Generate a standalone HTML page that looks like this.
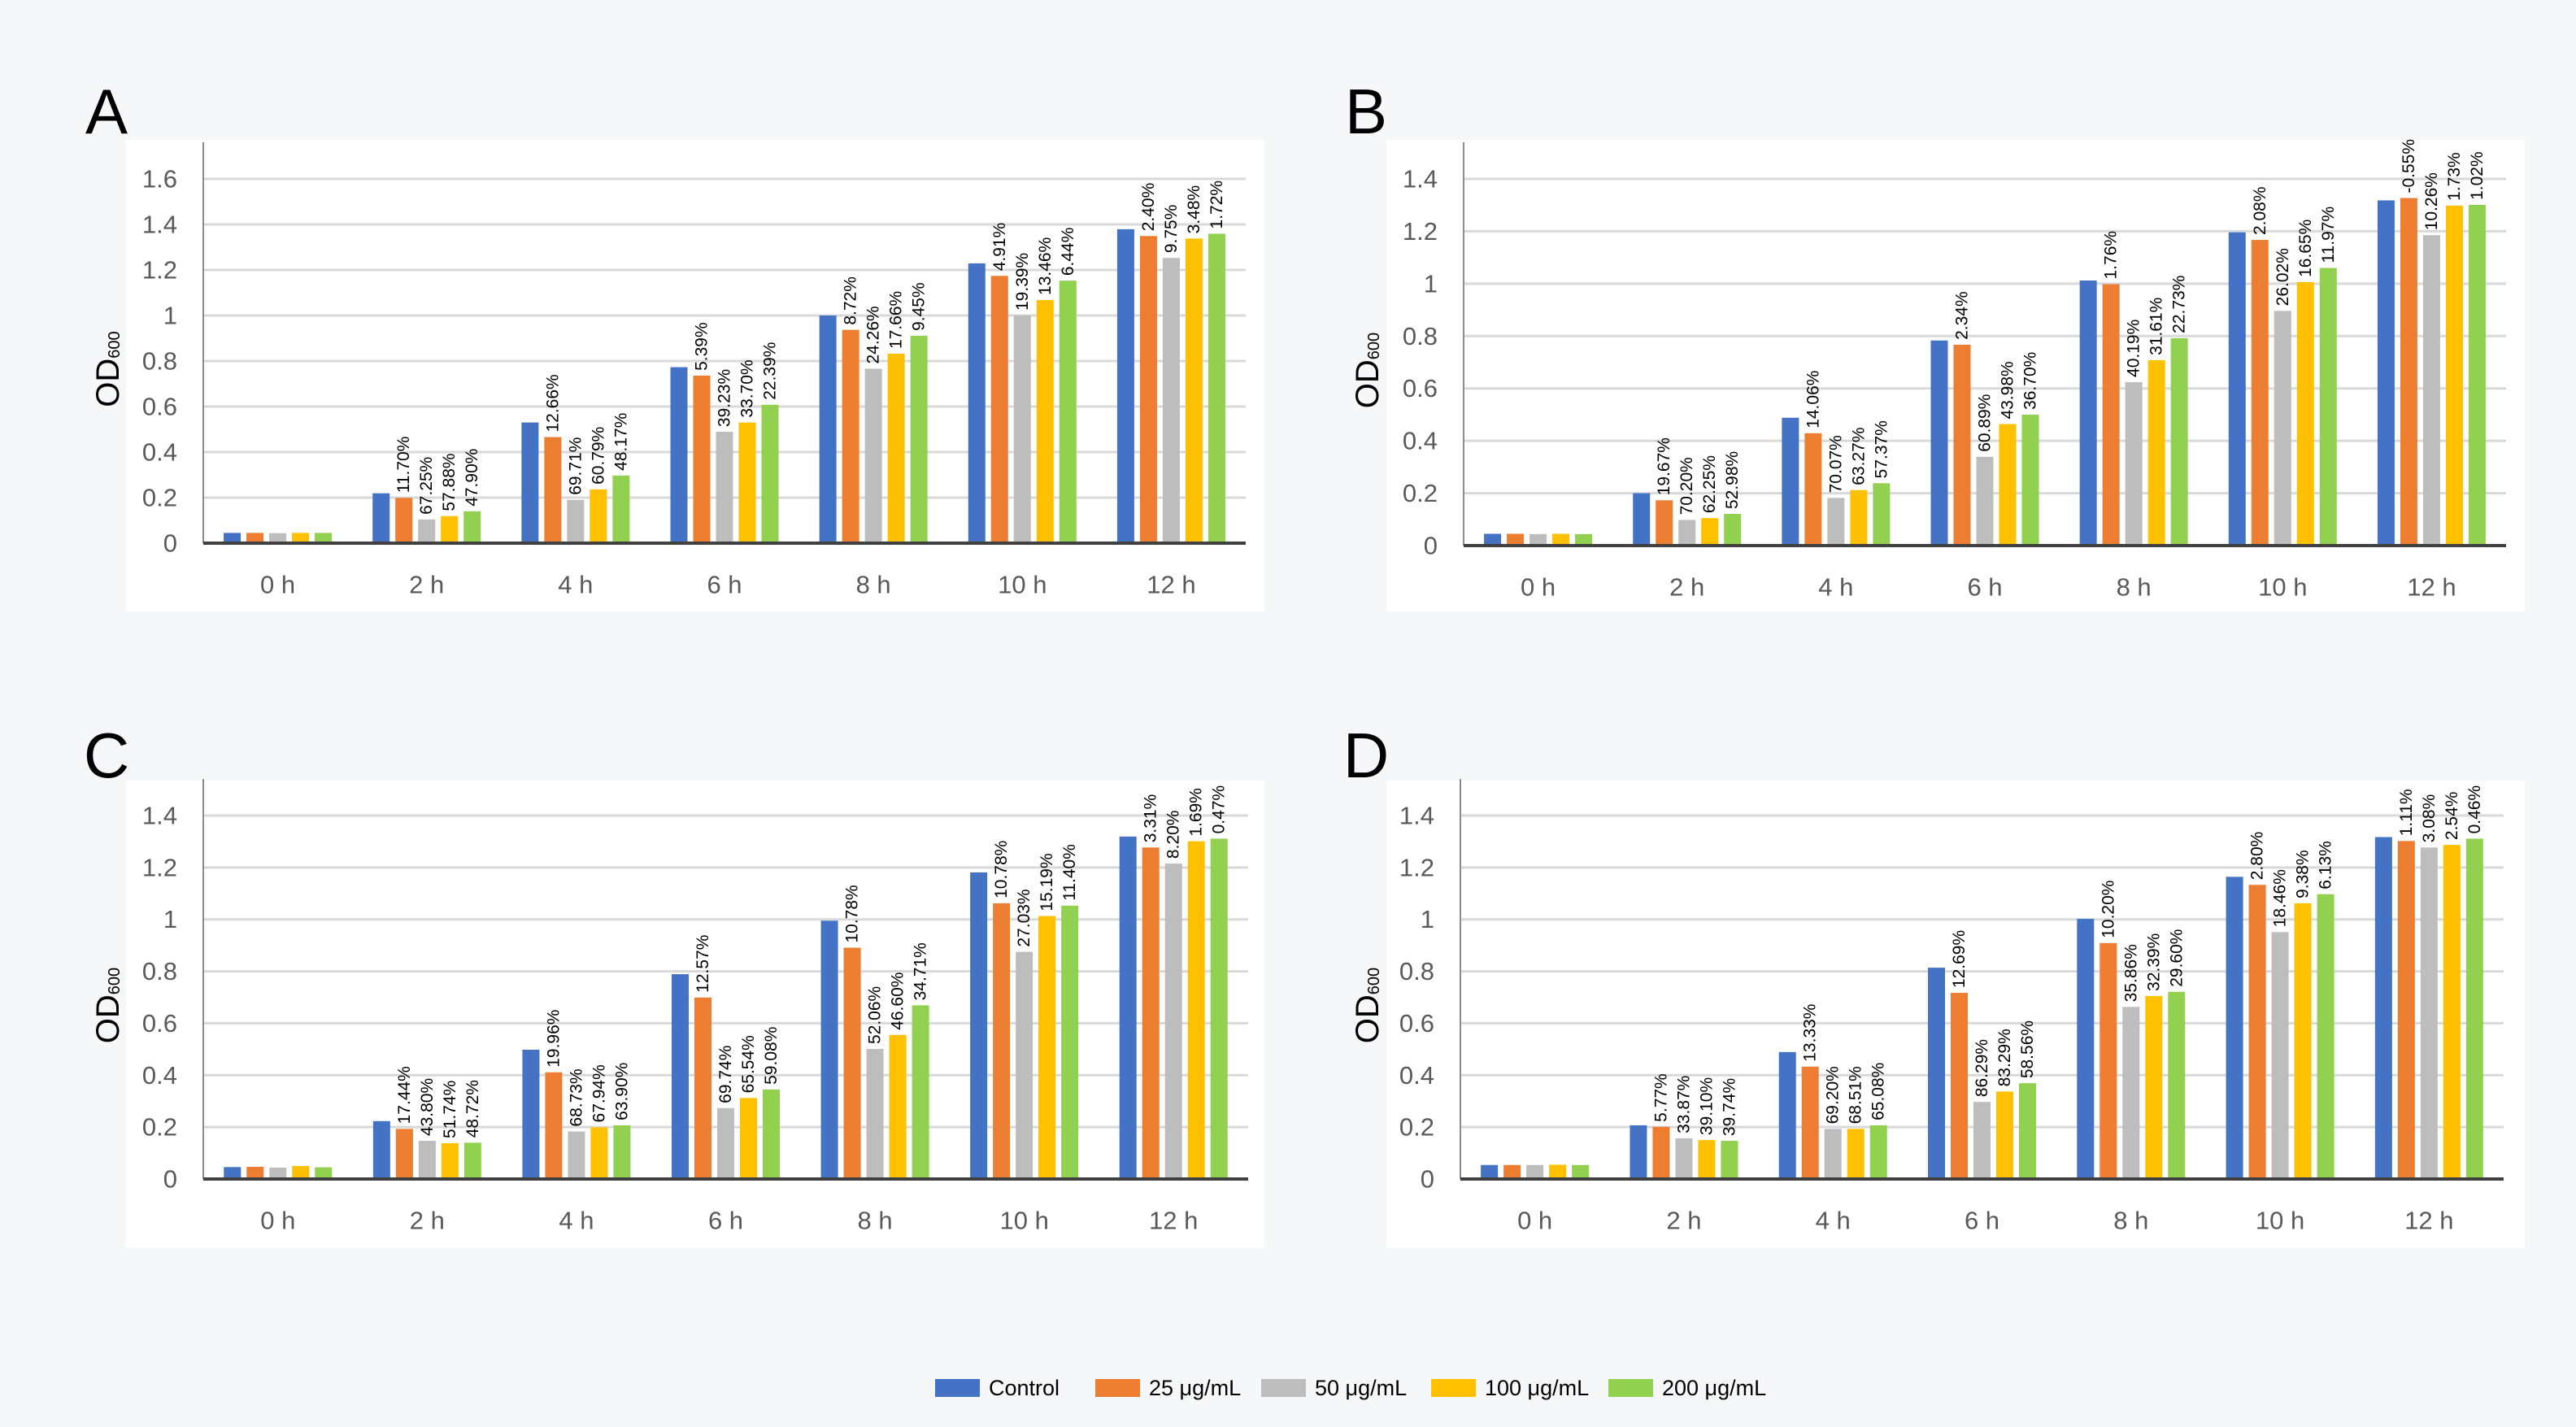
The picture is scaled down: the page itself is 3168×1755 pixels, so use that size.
<!DOCTYPE html>
<html><head><meta charset="utf-8">
<style>
html,body{margin:0;padding:0;background:#f6f7f9;}
svg{display:block;font-family:"Liberation Sans",sans-serif;}
</style></head>
<body>
<svg id="fig" width="3168" height="1755" viewBox="0 0 3168 1755" xmlns="http://www.w3.org/2000/svg">
<rect x="0" y="0" width="3168" height="1755" fill="#f6f7f9"/>
</svg>
<script>
const categories = ["0 h","2 h","4 h","6 h","8 h","10 h","12 h"];
const seriesNames = ["Control","25 μg/mL","50 μg/mL","100 μg/mL","200 μg/mL"];
const colors = ["#4472c4","#ed7d31","#bdbdbd","#ffc000","#92d050"];

const aControl = [0.045,0.219,0.53,0.773,1.0,1.229,1.379];
const a25 = [0.045,0.199,0.466,0.736,0.937,1.174,1.349];
const a50 = [0.044,0.104,0.19,0.489,0.766,1.0,1.253];
const a100 = [0.045,0.119,0.236,0.53,0.832,1.068,1.338];
const a200 = [0.045,0.14,0.297,0.608,0.911,1.153,1.359];
const aLabels25 = ["","11.70%","12.66%","5.39%","8.72%","4.91%","2.40%"];
const aLabels50 = ["","67.25%","69.71%","39.23%","24.26%","19.39%","9.75%"];
const aLabels100 = ["","57.88%","60.79%","33.70%","17.66%","13.46%","3.48%"];
const aLabels200 = ["","47.90%","48.17%","22.39%","9.45%","6.44%","1.72%"];

const bControl = [0.045,0.2,0.488,0.783,1.012,1.196,1.318];
const b25 = [0.045,0.173,0.429,0.767,0.998,1.167,1.327];
const b50 = [0.044,0.098,0.182,0.339,0.624,0.896,1.185];
const b100 = [0.045,0.105,0.212,0.464,0.708,1.006,1.298];
const b200 = [0.044,0.121,0.238,0.5,0.792,1.06,1.301];
const bLabels25 = ["","19.67%","14.06%","2.34%","1.76%","2.08%","-0.55%"];
const bLabels50 = ["","70.20%","70.07%","60.89%","40.19%","26.02%","10.26%"];
const bLabels100 = ["","62.25%","63.27%","43.98%","31.61%","16.65%","1.73%"];
const bLabels200 = ["","52.98%","57.37%","36.70%","22.73%","11.97%","1.02%"];

const cControl = [0.046,0.223,0.498,0.789,0.995,1.181,1.319];
const c25 = [0.047,0.193,0.411,0.699,0.891,1.062,1.277];
const c50 = [0.044,0.147,0.183,0.273,0.501,0.875,1.215];
const c100 = [0.05,0.138,0.199,0.312,0.555,1.013,1.301];
const c200 = [0.045,0.14,0.207,0.345,0.669,1.053,1.311];
const cLabels25 = ["","17.44%","19.96%","12.57%","10.78%","10.78%","3.31%"];
const cLabels50 = ["","43.80%","68.73%","69.74%","52.06%","27.03%","8.20%"];
const cLabels100 = ["","51.74%","67.94%","65.54%","46.60%","15.19%","1.69%"];
const cLabels200 = ["","48.72%","63.90%","59.08%","34.71%","11.40%","0.47%"];

const dControl = [0.054,0.207,0.489,0.814,1.002,1.164,1.317];
const d25 = [0.054,0.201,0.433,0.717,0.909,1.133,1.302];
const d50 = [0.054,0.157,0.193,0.297,0.663,0.951,1.277];
const d100 = [0.055,0.15,0.193,0.337,0.705,1.062,1.287];
const d200 = [0.054,0.147,0.207,0.369,0.721,1.097,1.311];
const dLabels25 = ["","5.77%","13.33%","12.69%","10.20%","2.80%","1.11%"];
const dLabels50 = ["","33.87%","69.20%","86.29%","35.86%","18.46%","3.08%"];
const dLabels100 = ["","39.10%","68.51%","83.29%","32.39%","9.38%","2.54%"];
const dLabels200 = ["","39.74%","65.08%","58.56%","29.60%","6.13%","0.46%"];

const ticksA = ["0","0.2","0.4","0.6","0.8","1","1.2","1.4","1.6"];
const ticksB = ["0","0.2","0.4","0.6","0.8","1","1.2","1.4"];

const NS="http://www.w3.org/2000/svg";
const svg=document.getElementById('fig');
function mk(tag,attrs,parent){const e=document.createElementNS(NS,tag);for(const k in attrs)e.setAttribute(k,attrs[k]);(parent||svg).appendChild(e);return e;}

const panels=[
 {id:'a',letter:'A',bg:[155,172,1400,580],x0:250,x1:1532,y0:668,yTopVal:1.6,yTop:220,ticks:ticksA,lx:131,ly:137,
  series:[aControl,a25,a50,a100,a200],labels:[null,aLabels25,aLabels50,aLabels100,aLabels200]},
 {id:'b',letter:'B',bg:[1705,172,1400,580],x0:1800,x1:3082,y0:671,yTopVal:1.4,yTop:220,ticks:ticksB,lx:1680,ly:137,
  series:[bControl,b25,b50,b100,b200],labels:[null,bLabels25,bLabels50,bLabels100,bLabels200]},
 {id:'c',letter:'C',bg:[155,960,1400,575],x0:250,x1:1535,y0:1450,yTopVal:1.4,yTop:1003,ticks:ticksB,lx:131,ly:929,
  series:[cControl,c25,c50,c100,c200],labels:[null,cLabels25,cLabels50,cLabels100,cLabels200]},
 {id:'d',letter:'D',bg:[1705,960,1400,575],x0:1796,x1:3079,y0:1450,yTopVal:1.4,yTop:1003,ticks:ticksB,lx:1680,ly:929,
  series:[dControl,d25,d50,d100,d200],labels:[null,dLabels25,dLabels50,dLabels100,dLabels200]}
];

panels.forEach(p=>{
  const g=mk('g',{});
  
  
  const bg=mk('rect',{x:p.bg[0],y:p.bg[1],width:p.bg[2],height:p.bg[3],fill:'#ffffff'},g);
  
  
  const L=mk('text',{x:p.lx,y:p.ly,'font-size':78,'text-anchor':'middle','dominant-baseline':'central',fill:'#000'},g);
  L.textContent=p.letter;
  
  
  const yScale=v=>p.y0-(v/p.yTopVal)*(p.y0-p.yTop);
  const band=(p.x1-p.x0)/categories.length;
  // gridlines & ticks
  p.ticks.forEach(t=>{
    const y=yScale(parseFloat(t));
    if(parseFloat(t)>0){
      const gl=mk('line',{x1:p.x0,x2:p.x1,y1:y,y2:y,stroke:'#d9d9d9','stroke-width':3},g);
      
      
    }
    const tl=mk('text',{x:p.x0-32,y:y,'font-size':31,'text-anchor':'end','dominant-baseline':'central',fill:'#595959'},g);
    tl.textContent=t;
    
    
  });
  const ya=mk('line',{x1:p.x0,x2:p.x0,y1:p.yTop-45,y2:p.y0,stroke:'#8c8c8c','stroke-width':2},g);
  
  
  // y title
  const yt=mk('text',{x:0,y:0,'font-size':40,'text-anchor':'middle','dominant-baseline':'central',fill:'#000',transform:`translate(${p.lx+2},${(p.y0+p.yTop)/2+10}) rotate(-90)`},g);
  
  
  yt.appendChild(document.createTextNode('OD'));
  const sub=mk('tspan',{'font-size':20,dy:8},yt);sub.textContent='600';
  // bars
  const bw=21,pitch=28,gw=pitch*4+bw;
  categories.forEach((c,i)=>{
    const gx=p.x0+band*i+(band-gw)/2;
    p.series.forEach((s,k)=>{
      const v=s[i];const y=yScale(v);const x=gx+k*pitch;
      const r=mk('rect',{x:x,y:y,width:bw,height:p.y0-y,fill:colors[k]},g);
      
      
      if(p.labels[k] && p.labels[k][i]){
        const t=mk('text',{x:0,y:0,'font-size':21,'text-anchor':'start','dominant-baseline':'central',fill:'#000',transform:`translate(${x+bw/2},${y-6}) rotate(-90)`},g);
        t.textContent=p.labels[k][i];
        
        
      }
    });
    const cl=mk('text',{x:p.x0+band*(i+0.5),y:p.y0+51,'font-size':31,'text-anchor':'middle','dominant-baseline':'central',fill:'#595959'},g);
    cl.textContent=c;
    
    
  });
  const xa=mk('line',{x1:p.x0,x2:p.x1,y1:p.y0,y2:p.y0,stroke:'#404040','stroke-width':4},g);
  
  
});

// legend
const legX=[1150,1347,1551,1760,1978];
const lg=mk('g',{});


seriesNames.forEach((n,k)=>{
  const e=mk('g',{},lg);
  
  
  mk('rect',{x:legX[k],y:1696,width:55,height:22,fill:colors[k]},e);
  const t=mk('text',{x:legX[k]+66,y:1707,'font-size':27,'dominant-baseline':'central',fill:'#000'},e);
  t.textContent=n;
});
</script>
</body></html>
